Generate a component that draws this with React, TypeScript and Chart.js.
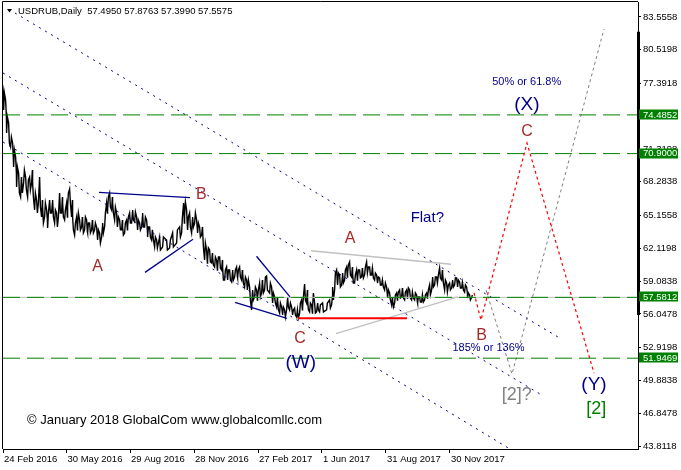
import React, { useEffect, useRef } from "react";
import { Chart, registerables } from "chart.js";

Chart.register(...registerables);

// ---------- axes ----------
const yMin = 43.534;
const yMax = 84.945;
const xMax = 635;
const yTickValues = [83.5558, 80.5198, 77.3918, 74.3558, 71.3198, 68.2838, 65.1558, 62.1198, 59.0838, 56.0478, 52.9198, 49.8838, 46.8478, 43.8118];
const dateTickDays = [0, 63.5, 127, 191, 255, 319, 383, 447];
const dateLabels = ["24 Feb 2016", "30 May 2016", "29 Aug 2016", "28 Nov 2016", "27 Feb 2017", "1 Jun 2017", "31 Aug 2017", "30 Nov 2017"];

// ---------- header ----------
const headerSymbol = "USDRUB,Daily";
const headerOHLC = ["57.4950", "57.8763", "57.3990", "57.5575"];

// ---------- price (daily high / low) ----------
const priceDays = [0,1,3,4,6,8,10,11,13,14,16,18,19,21,23,25,27,29,30,32,34,35,37,39,40,42,44,45,47,49,50,52,54,55,57,59,60,62,64,65,67,69,70,72,74,75,77,79,80,82,84,85,87,89,90,92,94,95,97,99,100,102,104,105,107,109,110,112,114,115,117,119,120,122,124,125,127,129,130,132,134,135,137,139,140,142,144,145,147,149,150,152,154,155,157,
160,164,167,170,174,177,179,181,182,184,185,187,189,190,192,194,195,197,199,200,202,204,205,207,209,210,212,214,215,217,219,220,222,224,225,227,229,230,232,234,235,237,239,240,242,244,245,247,249,250,252,254,255,257,259,260,262,264,267,269,270,272,274,275,277,279,280,282,284,285,287,289,290,292,294,295,297,299,300,302,304,305,307,309,310,312,314,315,317,320,324,327,
329,330,332,334,335,337,339,340,342,344,345,347,349,350,352,354,355,357,359,360,362,364,365,367,369,370,372,374,375,377,379,380,382,384,385,387,389,390,392,394,395,397,399,400,402,404,405,407,409,410,412,414,415,417,419,420,422,424,425,427,429,430,432,434,435,437,439,440,442,444,445,447,449,450,452,454,455,457,459,460,462,464,465,467,469];
const priceHighs = [77.26,76.52,75.87,74.29,73.74,72.44,71.88,71.23,70.59,69.66,69.10,68.73,68.46,69.38,68.73,68.46,68.73,69.38,68.18,67.25,66.60,66.32,68.73,66.60,65.95,66.32,65.68,65.40,66.60,66.32,66.60,65.68,65.40,65.03,67.25,66.88,66.32,65.68,66.32,67.25,67.62,66.60,65.03,64.47,65.03,65.40,64.75,65.03,64.75,65.03,64.75,64.47,64.47,64.75,64.47,64.47,64.10,63.83,63.55,64.10,64.47,65.40,66.32,66.88,67.25,66.88,66.32,65.95,65.40,65.03,64.75,64.75,64.10,64.47,64.75,65.03,65.40,65.40,65.68,65.49,65.03,64.75,64.47,65.03,65.40,65.03,64.75,64.10,64.10,63.83,63.83,63.17,62.90,62.62,63.17,
63.17,62.90,62.90,63.55,63.83,64.10,65.03,66.32,66.42,65.68,65.03,65.40,64.75,65.03,65.40,64.75,64.47,64.10,64.10,63.83,62.62,61.97,62.16,61.97,61.69,61.32,61.32,61.04,61.32,61.32,61.04,60.40,60.12,60.40,60.12,60.12,59.84,60.12,60.12,60.40,60.12,60.40,60.12,59.84,59.47,59.19,59.19,58.54,57.99,58.27,58.54,58.27,58.27,58.91,59.19,58.91,59.47,59.56,58.91,58.54,57.99,57.62,57.62,57.34,57.06,56.69,56.69,56.42,57.34,57.62,57.06,56.69,56.42,56.60,56.42,56.23,57.06,57.34,57.62,58.82,58.27,57.34,57.06,56.88,57.99,57.06,56.88,57.06,56.88,57.06,57.06,57.34,
57.62,58.54,59.84,60.12,59.84,59.66,59.47,59.84,60.12,60.40,60.58,60.86,60.40,59.84,59.66,60.12,60.12,60.12,60.30,60.12,60.40,60.86,60.40,60.40,60.30,60.12,59.84,59.66,59.47,59.38,59.19,59.01,58.91,58.54,58.27,57.99,57.62,57.34,57.80,57.99,58.08,58.27,58.45,58.27,58.08,58.27,58.45,58.27,58.08,58.08,57.99,57.80,57.62,57.62,57.80,57.62,57.80,57.99,58.27,58.73,59.19,59.47,59.47,59.47,59.66,60.30,60.12,59.84,59.19,58.91,58.73,58.91,59.01,59.19,59.38,59.38,59.19,59.01,59.01,58.91,58.73,58.54,57.99,57.80,57.80];
const priceLows = [76.33,74.94,74.29,72.81,71.88,71.51,70.31,69.66,69.10,67.81,67.25,66.88,67.25,68.18,67.53,66.88,67.53,68.18,66.88,65.68,65.40,65.40,65.95,65.03,64.47,65.03,64.75,64.01,65.40,65.40,65.03,64.47,64.10,64.10,65.40,65.40,65.03,64.75,65.03,65.95,66.32,65.03,63.83,63.36,63.83,64.10,63.83,64.10,63.55,63.83,63.64,63.55,63.55,63.83,63.55,63.83,63.17,62.90,62.62,63.17,63.55,64.10,65.40,65.68,65.95,65.68,65.40,64.75,64.10,64.10,63.83,63.83,63.36,63.55,63.83,64.10,64.47,64.47,64.75,64.57,64.10,63.83,63.83,64.10,64.10,64.10,63.83,63.17,63.17,62.90,62.90,62.25,62.16,62.16,61.97,
62.25,61.97,62.16,62.25,62.62,63.17,63.55,64.47,65.22,64.10,63.83,64.10,63.55,64.10,64.47,63.83,63.55,63.17,63.36,62.25,61.04,60.77,61.04,60.86,60.77,60.58,60.40,60.12,60.40,60.30,60.12,59.19,59.19,59.38,59.19,59.19,59.01,59.19,59.47,59.47,59.38,59.47,59.19,58.91,58.54,58.27,58.27,57.34,56.42,57.34,57.62,57.34,57.62,57.62,57.99,57.99,58.27,58.27,57.99,57.34,57.06,57.06,56.69,56.42,56.13,56.13,55.95,55.76,56.42,56.69,56.42,56.13,55.95,55.95,55.76,55.67,56.13,56.42,56.69,57.34,57.06,56.42,56.23,56.13,56.69,56.13,56.23,56.42,56.23,56.23,56.42,56.60,
56.88,57.34,58.27,58.91,58.73,58.54,58.73,58.91,59.19,59.47,59.84,59.66,59.47,58.91,58.91,59.19,59.38,59.38,59.47,59.38,59.66,59.84,59.84,59.66,59.66,59.38,59.19,59.01,58.91,58.73,58.73,58.54,58.27,57.80,57.52,57.34,56.88,56.69,57.06,57.34,57.52,57.52,57.62,57.52,57.34,57.52,57.62,57.52,57.34,57.52,57.34,57.15,57.06,57.15,57.15,57.15,57.34,57.52,57.62,57.80,58.27,58.54,58.73,58.91,58.91,59.38,59.19,58.91,58.27,58.08,58.08,58.27,58.45,58.54,58.73,58.73,58.54,58.45,58.45,58.27,58.08,57.99,57.52,57.34,57.56];

// ---------- horizontal levels ----------
const levelValues = [74.4852, 70.9, 57.5812, 51.9469];
const bidLevel = 57.5812;
const rangeBarTop = 82.19;
const rangeBarBottom = 55.95;

// ---------- drawn objects (day, price) ----------
const channelUpper = [[12, 83.926], [555, 53.91]];
const channelMiddle = [[0, 78.368], [537, 48.63]];
const channelLower = [[0, 71.975], [507, 43.534]];
const triTop = [[96, 67.3], [187, 66.83]];
const triBottom = [[142, 59.9], [190, 62.97]];
const wedgeTop = [[253.5, 61.39], [287, 57.62]];
const wedgeBottom = [[232, 57.11], [284, 55.64]];
const flatTop = [[308, 61.9], [448, 60.65]];
const flatBottom = [[333, 54.23], [455, 57.62]];
const flatLow = [[295, 55.64], [404, 55.64]];
const pathRed = [[471, 58.0], [478, 55.48], [524, 71.88], [591, 50.57]];
const pathGray = [[483, 58.26], [509, 50.48], [601, 82.44]];

// ---------- text labels ----------
const labelTexts = ["A", "B", "C", "(W)", "A", "Flat?", "B", "185% or 136%", "50% or 61.8%", "(X)", "C", "[2]?", "(Y)", "[2]"];
const labelDays = [94.5, 198.3, 297, 297.8, 347, 424.3, 478.7, 485.5, 523.7, 523.8, 524, 513.7, 591, 593.3];
const labelValues = [60.55, 67.22, 53.86, 51.52, 63.11, 65.03, 54.19, 52.96, 77.6, 75.38, 73.06, 48.54, 49.44, 47.19];
const labelKinds = ["wave", "wave", "wave", "degree", "wave", "note", "wave", "fib", "fib", "degree", "wave", "alt", "degree", "target"];
const watermarkText = "© January 2018 GlobalCom www.globalcomllc.com";
const watermarkDay = 24;
const watermarkValue = 46.31;

const F = '"Liberation Sans", Arial, sans-serif';
const NAVY = "#00008B";
const BROWN = "#A52A2A";
const GREEN = "#008000";
const kindStyle: Record<string, { color: string; size: number }> = {
  wave: { color: BROWN, size: 16 },
  degree: { color: NAVY, size: 19 },
  note: { color: NAVY, size: 15 },
  fib: { color: NAVY, size: 11 },
  alt: { color: "#808080", size: 18 },
  target: { color: GREEN, size: 18 },
};

const toPts = (arr: number[][]) => arr.map(([x, y]) => ({ x, y }));

function seg(arr: number[][], color: string, width: number, dash: number[] = []) {
  return {
    type: "line" as const,
    data: toPts(arr),
    borderColor: color,
    borderWidth: width,
    borderDash: dash,
    pointRadius: 0,
    fill: false,
    tension: 0,
  };
}

const overlayPlugin = {
  id: "overlay",
  beforeDraw(chart: any) {
    const ctx = chart.ctx;
    ctx.save();
    ctx.fillStyle = "#fff";
    ctx.fillRect(0, 0, chart.width, chart.height);
    ctx.restore();
  },
  afterDatasetsDraw(chart: any) {
    const ctx = chart.ctx;
    const xs = chart.scales.x;
    const ys = chart.scales.y;
    ctx.save();
    labelTexts.forEach((t, i) => {
      const st = kindStyle[labelKinds[i]];
      const px = xs.getPixelForValue(labelDays[i]);
      const py = ys.getPixelForValue(labelValues[i]);
      ctx.font = `${st.size}px ${F}`;
      ctx.fillStyle = st.color;
      ctx.textAlign = "center";
      ctx.textBaseline = "alphabetic";
      const off = /[\(\[]/.test(t) ? 0.27 : 0.36;
      ctx.fillText(t, px, py + off * st.size);
    });
    ctx.font = `13px ${F}`;
    ctx.fillStyle = "#000";
    ctx.textAlign = "left";
    ctx.fillText(watermarkText, xs.getPixelForValue(watermarkDay), ys.getPixelForValue(watermarkValue) + 0.36 * 13);
    ctx.restore();
  },
  afterDraw(chart: any) {
    const ctx = chart.ctx;
    const a = chart.chartArea;
    const ys = chart.scales.y;
    ctx.save();
    // frame (left and top)
    ctx.strokeStyle = "#000";
    ctx.lineWidth = 1;
    ctx.beginPath();
    ctx.moveTo(a.left - 0.5, a.bottom);
    ctx.lineTo(a.left - 0.5, a.top - 0.5);
    ctx.lineTo(a.right, a.top - 0.5);
    ctx.stroke();
    // range bar on the price axis
    const t = ys.getPixelForValue(rangeBarTop);
    const b = ys.getPixelForValue(rangeBarBottom);
    ctx.fillStyle = "#000";
    ctx.fillRect(a.right - 1, t, 3, b - t);
    // level boxes
    ctx.font = `9.5px ${F}`;
    ctx.textAlign = "left";
    ctx.textBaseline = "middle";
    levelValues.forEach((v) => {
      const py = ys.getPixelForValue(v);
      ctx.fillStyle = GREEN;
      ctx.fillRect(a.right + 1, Math.round(py) - 5.5, 39, 10);
      ctx.fillStyle = "#fff";
      ctx.fillText(v.toFixed(4), a.right + 5, py);
    });
    // header
    ctx.fillStyle = "#000";
    ctx.beginPath();
    ctx.moveTo(7, 9);
    ctx.lineTo(12, 9);
    ctx.lineTo(9.5, 12.5);
    ctx.closePath();
    ctx.fill();
    ctx.font = `9.5px ${F}`;
    ctx.textBaseline = "alphabetic";
    ctx.fillText(`${headerSymbol}  ${headerOHLC.join(" ")}`, 18, 14.3);
    ctx.restore();
  },
};

export default function App() {
  const ref = useRef<HTMLCanvasElement>(null);
  useEffect(() => {
    const canvas = ref.current;
    if (!canvas) return;
    const pricePts: { x: number; y: number }[] = [];
    priceDays.forEach((d, i) => {
      const first = i % 2 ? priceLows[i] : priceHighs[i];
      const second = i % 2 ? priceHighs[i] : priceLows[i];
      pricePts.push({ x: d - 0.4, y: first }, { x: d + 0.4, y: second });
    });
    const datasets: any[] = [
      ...levelValues.map((v) => seg([[0, v], [xMax, v]], GREEN, 1, [17, 7])),
      seg(pathRed, "#FF0000", 1.2, [3, 3]),
      seg(pathGray, "#808080", 1, [3, 3]),
      seg(channelUpper, NAVY, 1, [2, 5]),
      seg(channelMiddle, NAVY, 1, [2, 5]),
      seg(channelLower, NAVY, 1, [2, 5]),
      seg(triTop, NAVY, 1.3),
      seg(triBottom, NAVY, 1.3),
      seg(wedgeTop, NAVY, 1.3),
      seg(wedgeBottom, NAVY, 1.3),
      seg(flatLow, "#FF0000", 2),
      seg(flatTop, "#C0C0C0", 1.3),
      seg(flatBottom, "#C0C0C0", 1.3),
      seg([[0, bidLevel], [xMax, bidLevel]], "#C0C0C0", 1),
      {
        type: "line",
        data: pricePts,
        borderColor: "#000",
        borderWidth: 1.4,
        pointRadius: 0,
        fill: false,
        tension: 0,
      },
    ];
    const chart = new Chart(canvas, {
      type: "line",
      data: { datasets },
      options: {
        responsive: false,
        animation: false,
        devicePixelRatio: 1,
        layout: { padding: { left: 3, top: 2, right: 0, bottom: 0 } },
        plugins: { legend: { display: false }, tooltip: { enabled: false } },
        scales: {
          x: {
            type: "linear",
            position: "bottom",
            min: 0,
            max: xMax,
            afterBuildTicks: (s: any) => {
              s.ticks = dateTickDays.map((v) => ({ value: v }));
            },
            afterFit: (s: any) => {
              s.height = 21;
              s.paddingLeft = 0;
              s.paddingRight = 0;
            },
            ticks: {
              autoSkip: false,
              maxRotation: 0,
              minRotation: 0,
              align: "start",
              labelOffset: 1,
              padding: 1,
              color: "#000",
              font: { family: F, size: 9.5 },
              callback: (_v: any, i: number) => dateLabels[i],
            },
            grid: { drawOnChartArea: false, drawTicks: true, tickLength: 4, color: "#000" },
            border: { display: true, color: "#000" },
          },
          y: {
            type: "linear",
            position: "right",
            min: yMin,
            max: yMax,
            afterBuildTicks: (s: any) => {
              s.ticks = yTickValues.map((v) => ({ value: v }));
            },
            afterFit: (s: any) => {
              s.width = 43;
              s.paddingTop = 0;
              s.paddingBottom = 0;
            },
            ticks: {
              autoSkip: false,
              padding: 2,
              color: "#000",
              font: { family: F, size: 9.5 },
              callback: (v: any) => Number(v).toFixed(4),
            },
            grid: { drawOnChartArea: false, drawTicks: true, tickLength: 3, color: "#000" },
            border: { display: true, color: "#000" },
          },
        },
      },
      plugins: [overlayPlugin],
    } as any);
    return () => chart.destroy();
  }, []);
  return (
    <div style={{ position: "absolute", left: 0, top: 0, width: 681, height: 470, background: "#fff" }}>
      <canvas ref={ref} width={681} height={470} style={{ display: "block", width: 681, height: 470 }} />
    </div>
  );
}
